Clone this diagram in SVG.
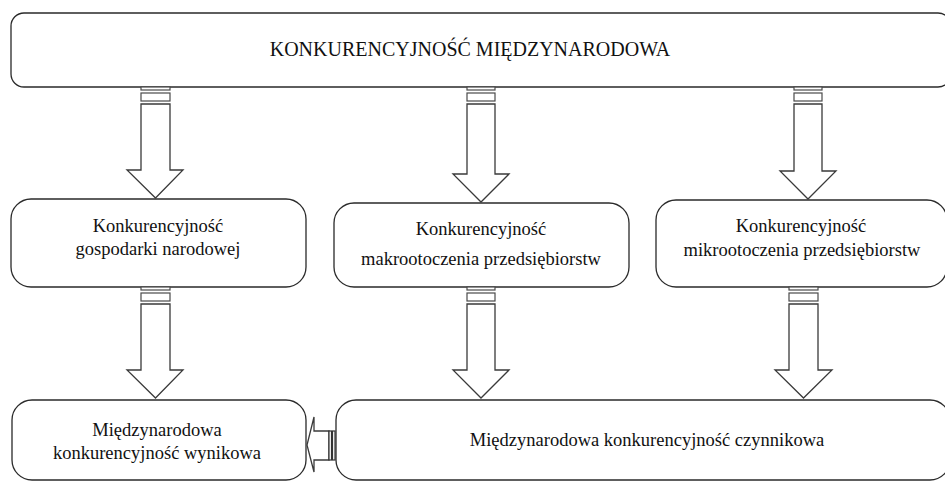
<svg xmlns="http://www.w3.org/2000/svg" width="945" height="482" viewBox="0 0 945 482">
<style>
.box{fill:#fff;stroke:#2a2a2a;stroke-width:1.3}
.arr{fill:#fff;stroke:#3a3a3a;stroke-width:1.3;stroke-linejoin:miter}
.bar{fill:#fff;stroke:#4a4a4a;stroke-width:1.2}
text{font-size:18.5px;fill:#111;text-anchor:middle}
</style>
<rect width="945" height="482" fill="#fff"/>
<g font-family="'Liberation Serif', 'DejaVu Serif', serif">
<g id="n-top"><rect class="box" x="11" y="13" width="940" height="74" rx="13"/><text x="470" y="56" style="font-size:20px">KONKURENCYJNOŚĆ MIĘDZYNARODOWA</text></g>
<g id="n-gosp"><rect class="box" x="11" y="199" width="295" height="88" rx="20"/><text x="158" y="232">Konkurencyjność</text><text x="158" y="255">gospodarki narodowej</text></g>
<g id="n-makro"><rect class="box" x="334" y="203" width="295" height="84" rx="20"/><text x="481" y="235">Konkurencyjność</text><text x="481" y="265">makrootoczenia przedsiębiorstw</text></g>
<g id="n-mikro"><rect class="box" x="656" y="200" width="291" height="87" rx="20"/><text x="801" y="232">Konkurencyjność</text><text x="802" y="256">mikrootoczenia przedsiębiorstw</text></g>
<g id="n-wyn"><rect class="box" x="12" y="400" width="294" height="80" rx="20"/><text x="157" y="436">Międzynarodowa</text><text x="157" y="459">konkurencyjność wynikowa</text></g>
<g id="n-czyn"><rect class="box" x="336" y="400" width="614" height="80" rx="20"/><text x="647" y="446">Międzynarodowa konkurencyjność czynnikowa</text></g>
</g>
<g id="connectors">
<rect class="bar" x="141" y="87" width="29" height="3"/><rect class="bar" x="141" y="93" width="29" height="8"/>
<path class="arr" d="M141,104 H170 V170 H183 L155.5,198 L127,170 H141 Z"/>
<rect class="bar" x="467" y="87" width="28" height="3"/><rect class="bar" x="467" y="93" width="28" height="8"/>
<path class="arr" d="M467,104 H495 V174 H509 L481,202 L453,174 H467 Z"/>
<rect class="bar" x="794" y="87" width="28" height="3"/><rect class="bar" x="794" y="93" width="28" height="8"/>
<path class="arr" d="M794,104 H822 V171 H836 L808,199 L780,171 H794 Z"/>
<rect class="bar" x="141" y="287" width="29" height="3"/><rect class="bar" x="141" y="293" width="29" height="8"/>
<path class="arr" d="M141,304 H170 V370 H183 L155.5,398 L127,370 H141 Z"/>
<rect class="bar" x="467" y="287" width="28" height="3"/><rect class="bar" x="467" y="293" width="28" height="8"/>
<path class="arr" d="M467,304 H495 V370 H509 L481,398 L453,370 H467 Z"/>
<rect class="bar" x="789" y="287" width="29" height="3"/><rect class="bar" x="789" y="293" width="29" height="8"/>
<path class="arr" d="M789,304 H818 V370 H832 L803.5,398 L775,370 H789 Z"/>
<path class="arr" d="M329,431 V460 H314 V472 L307,445 L314,417 V431 Z"/>
<rect class="bar" x="329" y="431" width="2.5" height="29" style="stroke:#333"/><rect class="bar" x="332.5" y="431" width="2.5" height="29" style="stroke:#333"/>
</g>
</svg>
